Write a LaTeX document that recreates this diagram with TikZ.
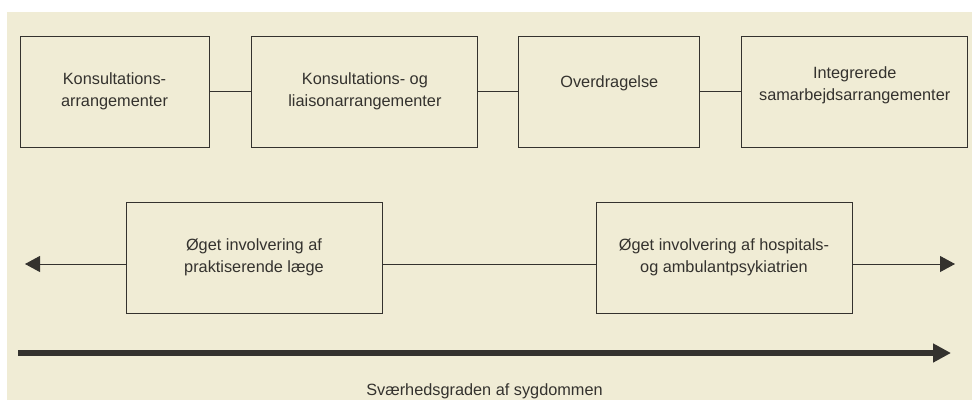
\documentclass[tikz,border=0pt]{standalone}
\usepackage{fontspec}
\setmainfont{Liberation Sans}
\usetikzlibrary{arrows.meta,positioning,calc}
\definecolor{paper}{RGB}{240,236,213}
\definecolor{ink}{RGB}{52,50,46}

\begin{document}
\begin{tikzpicture}[
		x=1pt, y=-1pt,
		node distance=42pt,
		box/.style={draw=ink, line width=0.9pt, minimum height=111pt, inner sep=0pt, align=center, text=ink, font=\fontsize{16.3}{22}\selectfont},
		link/.style={draw=ink, line width=1pt},
		arr/.style={link, -{Triangle[length=15pt,width=16pt]}},
		axis/.style={draw=ink, line width=6pt, -{Triangle[length=18pt,width=18pt]}}
		]
		\useasboundingbox (0,0) rectangle (972,400);
		\fill[paper] (7,12) rectangle (972,400);
		
		% top row
		\node[box, minimum width=189pt] (kons) at (114.5,91.5) {Konsultations-\\arrangementer};
		\node[box, minimum width=226pt, right=42pt of kons] (liais) {Konsultations- og\\liaisonarrangementer};
		\node[box, minimum width=181pt, right=40pt of liais] (over) {Overdragelse\\[-3pt]};
		\node[box, minimum width=226pt, right=41pt of over] (integ) {Integrerede\\samarbejdsarrangementer\\[-6pt]};
		
		\draw[link] (kons) -- (liais);
		\draw[link] (liais) -- (over);
		\draw[link] (over) -- (integ);
		
		% bottom row
		\node[box, minimum width=256pt] (prakt) at (254,257.5) {Øget involvering af\\praktiserende læge};
		\node[box, minimum width=256pt] (hosp) at (724,257.5) {Øget involvering af hospitals-\\og ambulantpsykiatrien};
		
		\coordinate (lvl) at (0,264);
		\coordinate (lend) at (25,264);
		\coordinate (rend) at (955,264);
		\draw[arr] (prakt.west |- lvl) -- (lend);
		\draw[link] (prakt.east |- lvl) -- (hosp.west |- lvl);
		\draw[arr] (hosp.east |- lvl) -- (rend);
		
		% severity axis
		\coordinate (s0) at (18,353);
		\coordinate (s1) at (951,353);
		\draw[axis] (s0) -- (s1);
		\node[text=ink, font=\fontsize{16.3}{22}\selectfont] (sev) at (484.5,391) {Sværhedsgraden af sygdommen};
		
	\end{tikzpicture}
\end{document}
